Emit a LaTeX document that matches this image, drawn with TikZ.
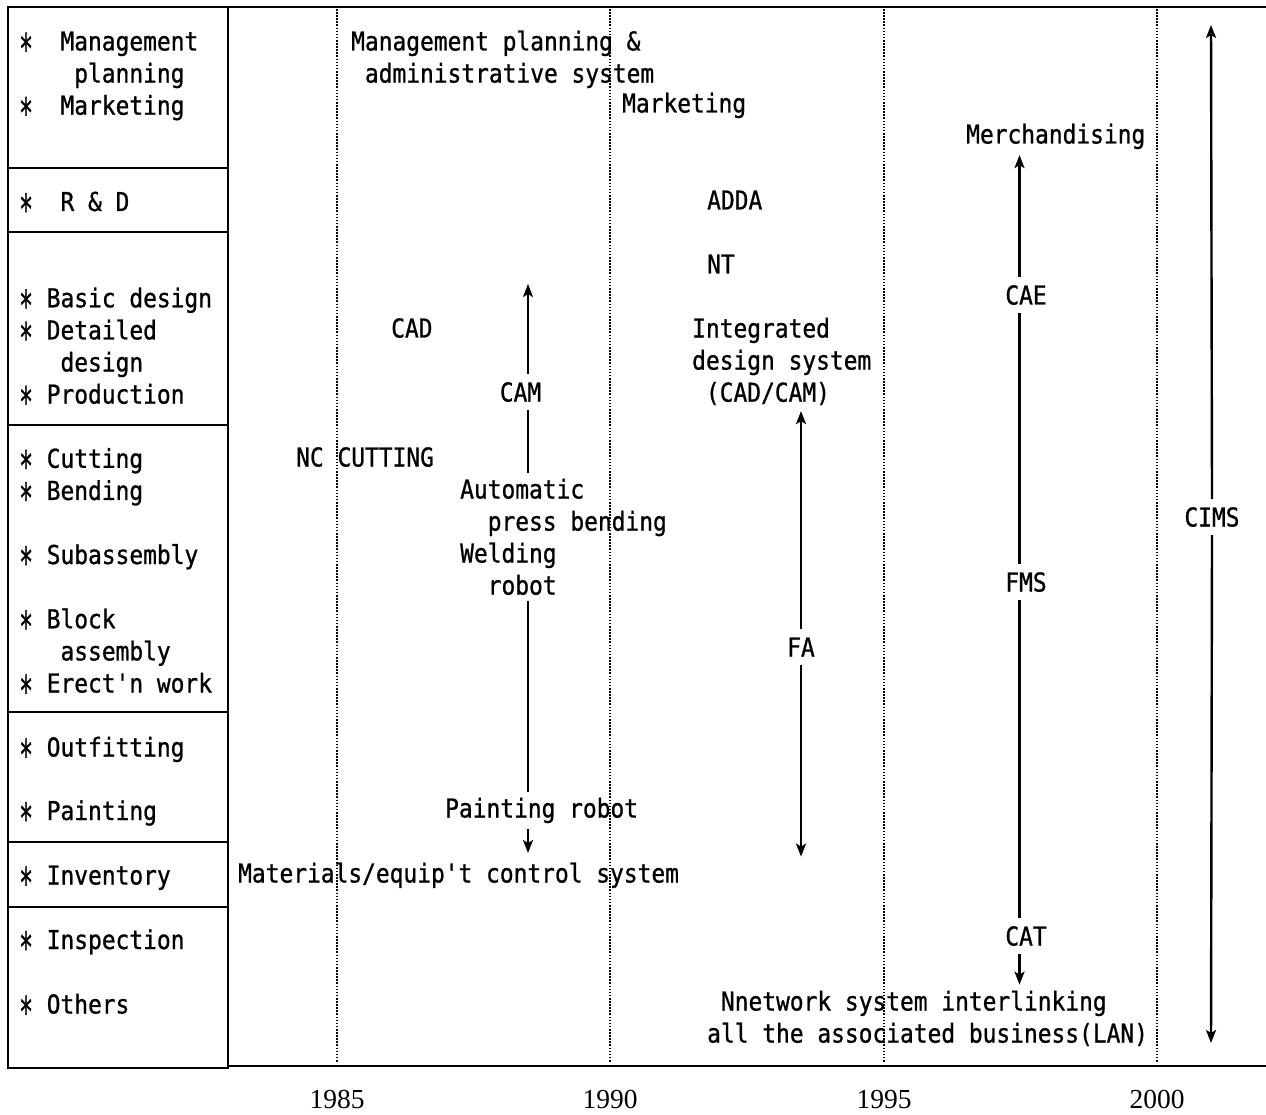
\documentclass[tikz,border=0pt]{standalone}
\usepackage{graphicx}
\usepackage{fontspec}
\newfontfamily\jmono[FakeStretch=0.88,FakeBold=0.9]{DejaVu Sans Mono}
\newfontfamily\yearfont{Liberation Serif}
\usetikzlibrary{arrows.meta}
\newcommand\bulast{\smash{\raisebox{-13pt}{\scalebox{1}[1.6]{*}}}}
\begin{document}
\begin{tikzpicture}[x=1pt,y=-1pt,
  lab/.style={anchor=base west, inner sep=0pt, outer ysep=6pt, align=left,
    font=\jmono\fontsize{26}{32.1}\selectfont},
  clab/.style={anchor=base, inner xsep=0pt, inner ysep=8pt,
    font=\jmono\fontsize{26}{32.1}\selectfont},
  yr/.style={anchor=base, inner sep=0pt, font=\yearfont\fontsize{27.5}{30}\selectfont},
  frameline/.style={line width=2.8pt},
  sepline/.style={line width=1.8pt},
  dotline/.style={line width=2.2pt, dash pattern=on 1.6pt off 1.5pt},
  conn/.style={line width=2.4pt},
  arr/.style={conn, -{Stealth[length=13pt,width=10pt,inset=3pt]}}
]
\useasboundingbox (0,0) rectangle (1266,1115);

% frame
\draw[frameline] (8,7) rectangle (228,1068);
\draw[line width=2.2pt] (228,7) -- (1266,7);
\draw[line width=2pt] (228,1066) -- (1266,1066);
\foreach \yy in {168,232,425,712,842,907} \draw[sepline] (8,\yy) -- (228,\yy);

% year grid
\foreach \xx in {337,610,884,1157} \draw[dotline] (\xx,9) -- (\xx,1063);

% left column (multi-line nodes: y = baseline of the last line)
\node[lab] (Lmgmt) at (19,114.7) {\bulast~~Management\\\phantom{xxxx}planning\\\bulast~~Marketing};
\node[lab] (Lrd) at (19,211) {\bulast~~R~\&~D};
\node[lab] (Ldes) at (19,403.6) {\bulast~Basic~design\\\bulast~Detailed\\\phantom{xxx}design\\\bulast~Production};
\node[lab] (Lcut) at (19,499.9) {\bulast~Cutting\\\bulast~Bending};
\node[lab] (Lsub) at (19,564) {\bulast~Subassembly};
\node[lab] (Lblock) at (19,692.5) {\bulast~Block\\\phantom{xxx}assembly\\\bulast~Erect'n~work};
\node[lab] (Lout) at (19,756.5) {\bulast~Outfitting};
\node[lab] (Lpaint) at (19,820) {\bulast~Painting};
\node[lab] (Linv) at (19,884.5) {\bulast~Inventory};
\node[lab] (Linsp) at (19,949) {\bulast~Inspection};
\node[lab] (Loth) at (19,1013.5) {\bulast~Others};

% timeline texts
\node[lab] (Mgmt) at (351,82.6) {Management~planning~\&\\\phantom{x}administrative~system};
\node[lab] (Mkt) at (622,112.5) {Marketing};
\node[lab] (Merch) at (966,143.5) {Merchandising};
\node[lab] (ADDA) at (707,209.5) {ADDA};
\node[lab] (NT) at (707,273.5) {NT};
\node[clab] (CAE) at (1026,304.5) {CAE};
\node[lab] (CAD) at (391,337.5) {CAD};
\node[lab] (Integ) at (692,401.7) {Integrated\\design~system\\\phantom{x}(CAD/CAM)};
\node[clab] (CAM) at (520.5,401.5) {CAM};
\node[lab] (NC) at (296,466.5) {NC~CUTTING};
\node[lab] (Auto) at (460,530.6) {Automatic\\\phantom{xx}press~bending};
\node[lab] (Weld) at (460,594.6) {Welding\\\phantom{xx}robot};
\node[clab] (CIMS) at (1212,526.5) {CIMS};
\node[clab] (FMS) at (1026,591.5) {FMS};
\node[clab] (FA) at (801,656.5) {FA};
\node[lab] (Paint) at (445,817.5) {Painting~robot};
\node[lab] (Mat) at (238,882.5) {Materials/equip't~control~system};
\node[clab] (CAT) at (1026,945.5) {CAT};
\node[lab] (Net) at (707,1042.6) {\phantom{x}Nnetwork~system~interlinking\\all~the~associated~business(LAN)};

% years
\node[yr] (y85) at (337,1108) {1985};
\node[yr] (y90) at (610,1108) {1990};
\node[yr] (y95) at (884,1108) {1995};
\node[yr] (y00) at (1157,1108) {2000};

% free arrow ends
\coordinate (camup) at (528,284);
\coordinate (camdown) at (528,853);
\coordinate (cimsup) at (1211,25);
\coordinate (cimsdown) at (1211,1043);

% CAM line
\draw[arr] ([xshift=7.5pt]CAM.north) -- (camup);
\draw[conn] ([xshift=7.5pt]CAM.south) -- ([xshift=7.5pt]CAM.south |- Auto.north);
\draw[conn] ([xshift=7.5pt]CAM.south |- Weld.south) -- ([xshift=7.5pt]CAM.south |- Paint.north);
\draw[arr] ([xshift=7.5pt]CAM.south |- Paint.south) -- (camdown);

% FA line
\draw[arr] (FA.north) -- (FA.north |- Integ.south);
\draw[arr] (FA.south) -- (FA.south |- Mat.north);

% CAE / FMS / CAT line
\draw[arr] ([xshift=-6.5pt]CAE.north) -- ([xshift=-6.5pt]CAE.north |- Merch.south);
\draw[conn] ([xshift=-6.5pt]CAE.south) -- ([xshift=-6.5pt]FMS.north);
\draw[conn] ([xshift=-6.5pt]FMS.south) -- ([xshift=-6.5pt]CAT.north);
\draw[arr] ([xshift=-6.5pt]CAT.south) -- ([xshift=-6.5pt]CAT.south |- Net.north);

% CIMS line
\draw[arr] (CIMS.north) -- (cimsup);
\draw[arr] (CIMS.south) -- (cimsdown);
\end{tikzpicture}
\end{document}
